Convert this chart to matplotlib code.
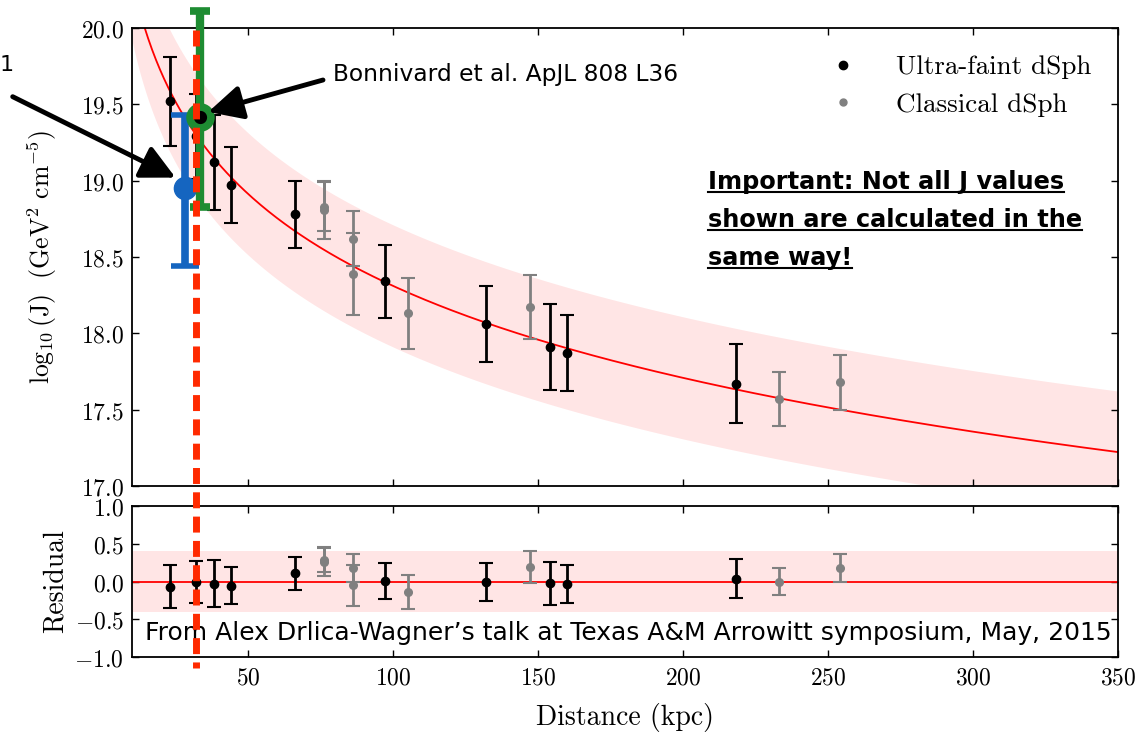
import numpy as np
import matplotlib
matplotlib.use('Agg')
import matplotlib.pyplot as plt
from matplotlib.lines import Line2D
from matplotlib.transforms import blended_transform_factory, IdentityTransform

plt.rcParams['mathtext.fontset'] = 'cm'
plt.rcParams['font.family'] = 'DejaVu Sans'

# ultra-faint dSphs: distance (kpc), log10 J, error
uf_dist = [23, 32, 38, 44, 66, 97, 132, 154, 160, 218]
uf_logj = [19.52, 19.29, 19.12, 18.97, 18.78, 18.34, 18.06, 17.91, 17.87, 17.67]
uf_err = [0.29, 0.28, 0.31, 0.25, 0.22, 0.24, 0.25, 0.28, 0.25, 0.26]

# classical dSphs
cl_dist = [76, 76, 86, 86, 105, 147, 233, 254]
cl_logj = [18.83, 18.81, 18.62, 18.39, 18.13, 18.17, 17.57, 17.68]
cl_err = [0.16, 0.19, 0.18, 0.27, 0.23, 0.21, 0.18, 0.18]

# fit: log10 J = fit_norm - 2 log10(D), band +-0.4
fit_norm = 22.31
band = 0.4

# highlighted points (value, lower err, upper err)
blue_dist, blue_logj, blue_lo, blue_hi = 28.2, 18.95, 0.51, 0.48
green_dist, green_logj, green_lo, green_hi = 33.3, 19.42, 0.59, 0.69
vline_dist = 32.0

dist_ticks = [50, 100, 150, 200, 250, 300, 350]
j_ticks = [17.0, 17.5, 18.0, 18.5, 19.0, 19.5, 20.0]
res_ticks = [-1.0, -0.5, 0.0, 0.5, 1.0]

W, H = 1142, 734
fig = plt.figure(figsize=(W / 100, H / 100), dpi=100)
ax1 = fig.add_axes([132.3 / W, 1 - 486 / H, 986 / W, 458 / H])
ax2 = fig.add_axes([132.3 / W, 1 - 657 / H, 986 / W, 151 / H])

d = np.linspace(10, 350, 500)
model = fit_norm - 2 * np.log10(d)

ax1.fill_between(d, model - band, model + band, color='red', alpha=0.1, lw=0)
ax1.plot(d, model, color='red', lw=1.3)
ax1.errorbar(uf_dist, uf_logj, yerr=uf_err, fmt='o', color='black', ms=6,
             elinewidth=2, capsize=5, capthick=1.5)
ax1.errorbar(cl_dist, cl_logj, yerr=cl_err, fmt='o', color='gray', ms=5.5,
             elinewidth=2, capsize=5, capthick=1.5)

# residuals
uf_res = np.array(uf_logj) - (fit_norm - 2 * np.log10(uf_dist))
cl_res = np.array(cl_logj) - (fit_norm - 2 * np.log10(cl_dist))
ax2.axhspan(-band, band, color='red', alpha=0.1, lw=0)
ax2.axhline(0, color='red', lw=1.3)
ax2.errorbar(uf_dist, uf_res, yerr=uf_err, fmt='o', color='black', ms=6,
             elinewidth=2, capsize=5, capthick=1.5)
ax2.errorbar(cl_dist, cl_res, yerr=cl_err, fmt='o', color='gray', ms=5.5,
             elinewidth=2, capsize=5, capthick=1.5)

# dashed vertical line through both panels
tr = blended_transform_factory(ax1.transData, fig.transFigure)
fig.add_artist(Line2D([vline_dist, vline_dist], [1 - 30 / H, 1 - 668 / H], transform=tr,
                      color='#ff2a00', lw=5, dashes=(2.3, 1.2), zorder=5))

# highlighted points
ax1.errorbar([blue_dist], [blue_logj], yerr=[[blue_lo], [blue_hi]], fmt='o',
             color='#1565c0', ms=16, elinewidth=5.5, capsize=10, capthick=4,
             clip_on=False, zorder=6)
eb = ax1.errorbar([green_dist], [green_logj], yerr=[[green_lo], [green_hi]], fmt='o',
                  color='#1e8c32', mfc='black', mec='#1e8c32', ms=15, mew=5.5,
                  elinewidth=6, capsize=7, capthick=4, zorder=7)
for art in eb.get_children():
    art.set_clip_on(False)

for ax in (ax1, ax2):
    ax.set_xlim(10, 350)
    ax.set_xticks(dist_ticks)
    ax.tick_params(direction='in', top=True, right=True, length=5, width=1, pad=6)
    for s in ax.spines.values():
        s.set_linewidth(1.3)

ax1.set_ylim(17.0, 20.0)
ax1.set_yticks(j_ticks)
ax1.set_yticklabels(['$%.1f$' % t for t in j_ticks], fontsize=17)
ax1.set_xticklabels([])
ax2.set_ylim(-1.0, 1.0)
ax2.set_yticks(res_ticks)
ax2.set_yticklabels(['$%.1f$' % t for t in res_ticks], fontsize=17)
ax2.set_xticklabels(['$%d$' % t for t in dist_ticks], fontsize=17)

ax1.set_ylabel(r'$\log_{10}(\mathrm{J})\ \ (\mathrm{GeV}^2\ \mathrm{cm}^{-5})$', fontsize=18.5)
ax1.yaxis.set_label_coords(-0.074, 0.5)
ax2.set_ylabel('Residual', family='cmr10', fontsize=20)
ax2.yaxis.set_label_coords(-0.065, 0.5)
ax2.set_xlabel('Distance (kpc)', family='cmr10', fontsize=20, labelpad=10)

handles = [Line2D([], [], marker='o', ls='none', color='black', ms=6),
           Line2D([], [], marker='o', ls='none', color='gray', ms=5)]
ax1.legend(handles, ['Ultra-faint dSph', 'Classical dSph'], loc='upper right',
           frameon=False, prop={'family': 'cmr10', 'size': 19.5}, numpoints=1,
           handlelength=1.5, handletextpad=1.2, labelspacing=0.5,
           borderaxespad=0.6)

# annotations
ax1.annotate('', xy=(24.9, 19.02), xytext=(12.7, H - 96.7), textcoords='figure pixels',
             arrowprops=dict(arrowstyle='-|>,head_length=0.4,head_width=0.2',
                             mutation_scale=52, lw=3.5, color='black',
                             shrinkA=0, shrinkB=0), annotation_clip=False, zorder=8)
ax1.annotate('', xy=(36.2, 19.45), xytext=(323, H - 80), textcoords='figure pixels',
             arrowprops=dict(arrowstyle='-|>,head_length=0.4,head_width=0.2',
                             mutation_scale=52, lw=3.5, color='black',
                             shrinkA=0, shrinkB=0), annotation_clip=False, zorder=8)
fig.text(0, 1 - 65 / H, '1', ha='left', va='center', fontsize=16)
fig.text(333 / W, 1 - 75 / H, 'Bonnivard et al. ApJL 808 L36', ha='left', va='center',
         fontsize=16.8)

imp_lines = ['Important: Not all J values', 'shown are calculated in the', 'same way!']
imp_texts = []
for i, line in enumerate(imp_lines):
    imp_texts.append(fig.text(708 / W, 1 - (182 + 38 * i) / H, line, ha='left',
                              va='center', fontsize=17.3, fontweight='bold'))

ax2.text(14.4, -0.68, 'From Alex Drlica-Wagner\u2019s talk at Texas A&M Arrowitt symposium, May, 2015',
         ha='left', va='center', fontsize=18)

fig.canvas.draw()
r = fig.canvas.get_renderer()
for t in imp_texts:
    bb = t.get_window_extent(r)
    fig.add_artist(Line2D([bb.x0, bb.x1], [bb.y0 + 2, bb.y0 + 2],
                          transform=IdentityTransform(), color='black', lw=1.5))

fig.savefig('out.png', dpi=100, facecolor='white')
